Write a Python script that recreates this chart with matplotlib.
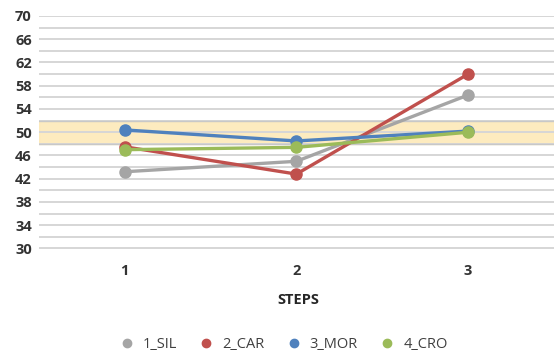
import numpy as np
import matplotlib.pyplot as plt
from matplotlib.lines import Line2D

plt.rcParams["font.family"] = ["Open Sans", "DejaVu Sans"]

steps = ["1", "2", "3"]
series_names = ["1_SIL", "2_CAR", "3_MOR", "4_CRO"]
sil = [43.2, 45.0, 56.4]
car = [47.5, 42.8, 60.0]
mor = [50.4, 48.5, 50.2]
cro = [47.0, 47.4, 50.0]
band_low, band_high = 48, 52

colors = ["#a5a5a5", "#c0504d", "#4f81bd", "#9bbb59"]

fig = plt.figure(figsize=(5.54, 3.55), dpi=100)
ax = fig.add_axes([0.07, 0.30, 0.93, 0.655])

x = np.arange(1, len(steps) + 1)

# reference band
ax.axhspan(band_low, band_high, color="#fde9b8", alpha=0.9, zorder=0)
ax.axhline(band_low, color="#c8c8c8", lw=1.0, zorder=0.5)
ax.axhline(band_high, color="#c8c8c8", lw=1.0, zorder=0.5)

# horizontal gridlines every 2 units
for g in np.arange(30, 71, 2):
    ax.axhline(g, color="#d6d6d6", lw=1.4, zorder=0.4)

for vals, c in zip([sil, car, mor, cro], colors):
    ax.plot(x, vals, color=c, lw=2.4, marker="o", ms=8, zorder=3,
            solid_capstyle="round")

ax.set_xlim(0.5, 3.5)
ax.set_ylim(30, 70)
ax.set_yticks(np.arange(30, 71, 4))
ax.set_xticks(x)
ax.set_xticklabels(steps)
ax.tick_params(length=0, labelsize=10.5, labelcolor="#333333", pad=5)
for lab in ax.get_xticklabels() + ax.get_yticklabels():
    lab.set_fontweight("bold")
ax.tick_params(axis="x", pad=11)
for s in ax.spines.values():
    s.set_visible(False)

fig.text(0.538, 0.155, "STEPS", ha="center", va="center", fontsize=10.5,
         fontweight="bold", color="#262626")

handles = [Line2D([], [], ls="none", marker="o", ms=6, color=c) for c in colors]
fig.legend(handles, series_names, loc="center", bbox_to_anchor=(0.505, 0.03),
           ncol=4, frameon=False, fontsize=10.5, handletextpad=0.1,
           columnspacing=1.0, labelcolor="#404040")

fig.savefig("out.png", dpi=100)
